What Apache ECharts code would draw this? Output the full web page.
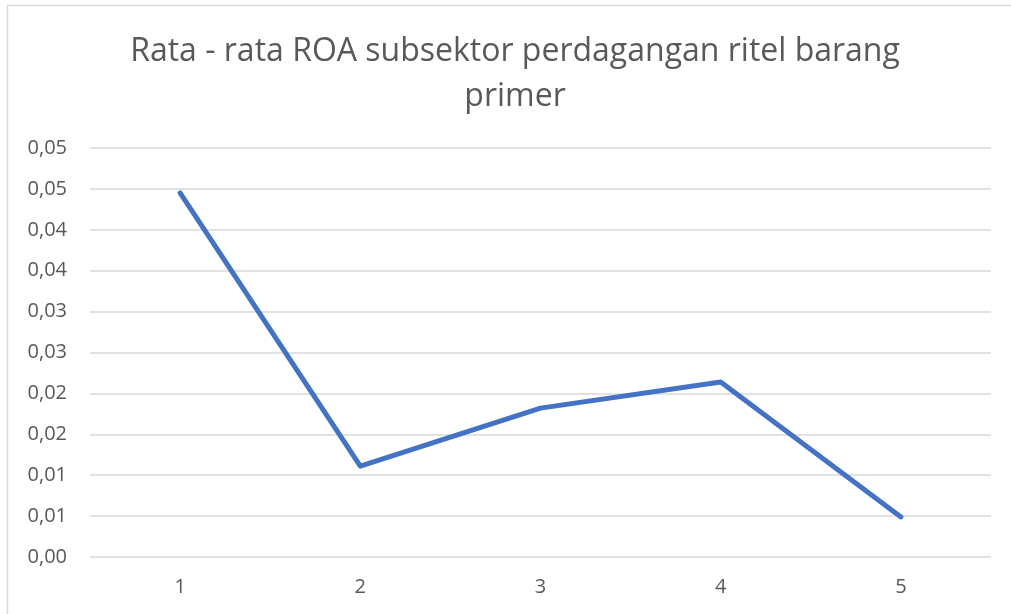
<!DOCTYPE html>
<html>
<head>
<meta charset="utf-8">
<script src="https://cdn.jsdelivr.net/npm/echarts@6/dist/echarts.min.js"></script>
<style>
html,body{margin:0;padding:0;background:#fff;}
#chart{width:1011px;height:614px;}
</style>
</head>
<body>
<div id="chart"></div>
<script>
const titleText = 'Rata - rata ROA subsektor perdagangan ritel barang\nprimer';
const categories = ['1', '2', '3', '4', '5'];
const roaValues = [0.0445, 0.0111, 0.0182, 0.0214, 0.0049];
const yTickLabels = ['0,00', '0,01', '0,01', '0,02', '0,02', '0,03', '0,03', '0,04', '0,04', '0,05', '0,05'];

const chart = echarts.init(document.getElementById('chart'));
const fontFam = '"Open Sans", "Noto Sans", sans-serif';
chart.setOption({
  animation: false,
  backgroundColor: '#ffffff',
  title: {
    text: titleText,
    left: 510,
    textAlign: 'center',
    top: 24,
    textStyle: { fontFamily: fontFam, fontSize: 32, fontWeight: 'normal', color: '#595959', lineHeight: 45 }
  },
  graphic: [{
    type: 'rect',
    shape: { x: 7.5, y: 5.5, width: 1200, height: 800 },
    style: { fill: 'none', stroke: '#d9d9d9', lineWidth: 1.5 },
    silent: true, z: -1
  }],
  grid: { left: 90, right: 20, top: 148, bottom: 57, containLabel: false },
  xAxis: {
    type: 'category',
    data: categories,
    boundaryGap: true,
    axisLine: { show: false },
    axisTick: { show: false },
    axisLabel: { fontFamily: fontFam, fontSize: 20, color: '#595959', margin: 20 }
  },
  yAxis: {
    type: 'value',
    min: 0, max: 0.05, interval: 0.005,
    axisLine: { show: false },
    axisTick: { show: false },
    splitLine: { lineStyle: { color: '#d9d9d9', width: 1.5 } },
    axisLabel: {
      fontFamily: fontFam, fontSize: 20, color: '#595959', margin: 23,
      formatter: function (v) { return yTickLabels[Math.round(v / 0.005)]; }
    }
  },
  series: [{
    type: 'line',
    data: roaValues,
    showSymbol: false,
    lineStyle: { color: '#4472C4', width: 5, cap: 'round', join: 'round' },
    itemStyle: { color: '#4472C4' }
  }]
});
</script>
</body>
</html>
